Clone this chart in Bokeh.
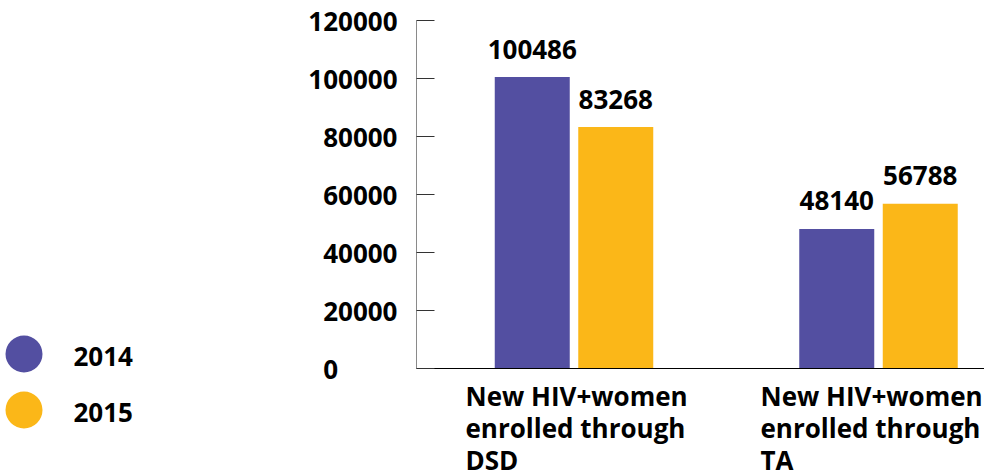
from bokeh.plotting import figure
from bokeh.models import (ColumnDataSource, Range1d, LinearAxis, FixedTicker,
                          BasicTickFormatter)
from bokeh.core.properties import value
from bokeh.embed import file_html
from bokeh.resources import INLINE

# --- data -------------------------------------------------------------
categories = ["New HIV+women enrolled through DSD",
              "New HIV+women enrolled through TA"]
category_lines = [["New HIV+women", "enrolled through", "DSD"],
                  ["New HIV+women", "enrolled through", "TA"]]
years = ["2014", "2015"]
values_2014 = [100486, 48140]
values_2015 = [83268, 56788]
y_ticks = [0, 20000, 40000, 60000, 80000, 100000, 120000]

# --- style ------------------------------------------------------------
PURPLE = "#534FA1"
YELLOW = "#FBB718"
FONT = "Open Sans"
FS = "26px"
W, H = 984, 473

# screen layout of the plotting area (pixels)
X0_PX, UNIT_PX = 573.5, 304.5      # first category centre, spacing between categories
AXIS_X_PX = 416                    # where the value axis stands
Y0_PX, YTOP_PX = 368, 20           # pixel rows of 0 and of the top tick
Y_MAX = y_ticks[-1]

BAR_W = 75 / UNIT_PX
DODGE = 41.75 / UNIT_PX
LABEL_SHIFT = [-108.5, -118]       # px shift of each category caption block
LINE_STEP = 32                     # px between caption lines


def x_of(px):
    return (px - X0_PX) / UNIT_PX


def y_of(py):
    return (Y0_PX - py) * Y_MAX / (Y0_PX - YTOP_PX)


p = figure(width=W, height=H, output_backend="svg", toolbar_location=None,
           title=None, x_axis_type=None, y_axis_type=None,
           x_range=Range1d(x_of(0), x_of(W)), y_range=Range1d(y_of(H), y_of(0)),
           min_border=0)
p.outline_line_color = None
p.grid.visible = False
p.background_fill_color = "white"
p.border_fill_color = "white"

# --- bars and value labels -------------------------------------------
xs = list(range(len(categories)))
src14 = ColumnDataSource(dict(x=[i - DODGE for i in xs], top=values_2014,
                              lbl=[str(v) for v in values_2014]))
src15 = ColumnDataSource(dict(x=[i + DODGE for i in xs], top=values_2015,
                              lbl=[str(v) for v in values_2015]))

for src, col in ((src14, PURPLE), (src15, YELLOW)):
    p.vbar(x="x", top="top", bottom=0, width=BAR_W, source=src,
           fill_color=col, line_color=None)
    p.text(x="x", y="top", text="lbl", source=src, text_align="center",
           text_baseline="alphabetic", y_offset=-28,
           text_font=value(FONT), text_font_style="bold",
           text_font_size=FS, text_color="black")

# --- value axis -------------------------------------------------------
yax = LinearAxis(fixed_location=x_of(AXIS_X_PX), bounds=(0, Y_MAX),
                 ticker=FixedTicker(ticks=y_ticks),
                 formatter=BasicTickFormatter(use_scientific=False))
yax.major_label_overrides = {0: "0\u2007\u2007\u2007\u2007"}
yax.axis_line_color = "#8a8a8a"
yax.axis_line_width = 1
yax.major_tick_in = 18
yax.major_tick_out = 0
yax.major_tick_line_color = "#333333"
yax.minor_tick_line_color = None
yax.major_label_standoff = 19
yax.major_label_text_font = FONT
yax.major_label_text_font_style = "bold"
yax.major_label_text_font_size = FS
yax.major_label_text_color = "black"
p.add_layout(yax, "left")

# --- category baseline ------------------------------------------------
xax = LinearAxis(fixed_location=0, bounds=(x_of(AXIS_X_PX), x_of(W)),
                 ticker=FixedTicker(ticks=[]))
xax.axis_line_color = "black"
xax.axis_line_width = 1
xax.major_tick_line_color = None
xax.minor_tick_line_color = None
xax.major_label_text_font_size = "0px"
p.add_layout(xax, "below")

# --- category captions ------------------------------------------------
cap = dict(x=[], y=[], dy=[], text=[])
for i, lines in enumerate(category_lines):
    for j, line in enumerate(lines):
        cap["x"].append(i + LABEL_SHIFT[i] / UNIT_PX)
        cap["y"].append(0)
        cap["dy"].append(27 + LINE_STEP * j)
        cap["text"].append(line)
p.text(x="x", y="y", y_offset="dy", text="text", source=ColumnDataSource(cap),
       text_align="left", text_baseline="alphabetic",
       text_font=value(FONT), text_font_style="bold",
       text_font_size=FS, text_color="black")

# --- legend -----------------------------------------------------------
leg_rows = [353.5 + 56 * k for k in range(len(years))]
leg_src = ColumnDataSource(dict(x=[x_of(23.5)] * len(years),
                                y=[y_of(r) for r in leg_rows],
                                tx=[x_of(73)] * len(years), label=years,
                                color=[PURPLE, YELLOW]))
p.scatter(x="x", y="y", source=leg_src, marker="circle", size=37,
          fill_color="color", line_color=None)
p.text(x="tx", y="y", text="label", source=leg_src, text_align="left",
       text_baseline="middle", y_offset=2,
       text_font=value(FONT), text_font_style="bold",
       text_font_size=FS, text_color="black")

open("out.html", "w").write(file_html(p, INLINE))
